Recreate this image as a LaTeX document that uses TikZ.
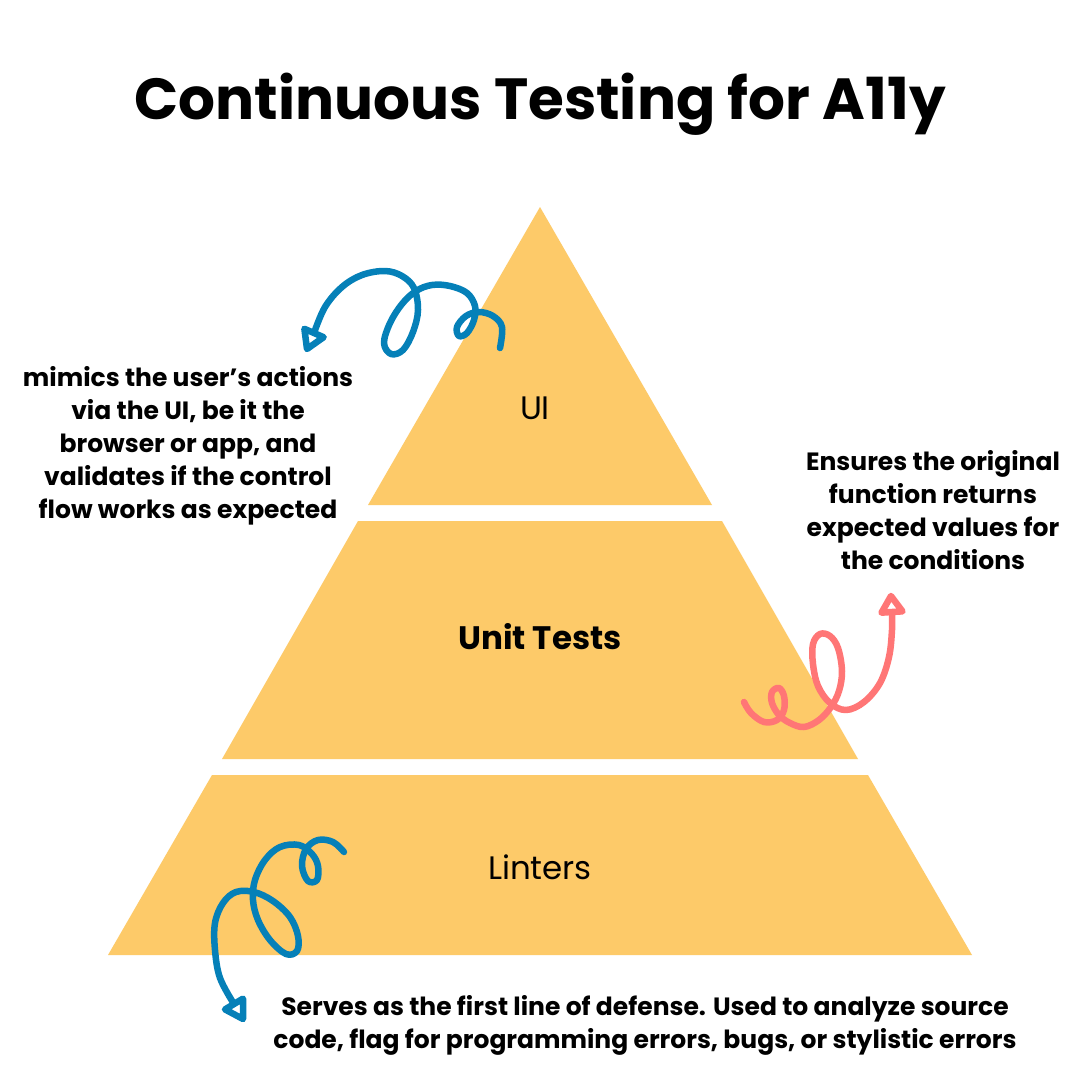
\documentclass[tikz,border=0pt]{standalone}
\usepackage{fontspec}
\setmainfont{Poppins}
\usepackage{tikz}
\usetikzlibrary{arrows.meta,positioning,calc}
\definecolor{pyr}{HTML}{FDCA69}
\definecolor{loopblue}{HTML}{0580B8}
\definecolor{looppink}{HTML}{FF7676}
\tikzset{
  layer/.style={fill=pyr,draw=none},
  tier/.style={font=\fontsize{32.5}{38}\selectfont,text=black,inner sep=0pt},
  note/.style={font=\fontsize{25}{33}\selectfont\bfseries,align=center,inner sep=0pt},
  squig/.style={line width=6.5pt,line cap=round,line join=round},
  headtri/.style={line width=6.5pt,line join=round,draw=#1,fill=white},
}
\begin{document}
\begin{tikzpicture}[x=1pt,y=-1pt]
  \fill[white] (0,0) rectangle (1080,1080);
  \useasboundingbox (0,0) rectangle (1080,1080);
  \node[font=\fontsize{58}{70}\selectfont\bfseries] (title) at (540,104) {Continuous Testing for A11y};
  \fill[layer] (540,207) -- (712,505) -- (368,505) -- cycle;
  \fill[layer] (358,521) -- (722,521) -- (858,759) -- (222,759) -- cycle;
  \fill[layer] (212,775) -- (868,775) -- (972,955) -- (108,955) -- cycle;
  \node[tier] (ui) at (535,408) {UI};
  \node[tier,font=\fontsize{32.5}{38}\selectfont\bfseries] (unit) at (540,637) {Unit Tests};
  \node[tier] (lint) at (540,867) {Linters};
  \node[note] (uinote) at (188,446) {mimics the user’s actions\\via the UI, be it the\\browser or app, and\\validates if the control\\flow works as expected};
  \node[note] (unitnote) at (933,510) {Ensures the original\\function returns\\expected values for\\the conditions};
  \node[note] (lintnote) at (645,1025) {Serves as the first line of defense. Used to analyze source\\code, flag for programming errors, bugs, or stylistic errors};
  \coordinate (uibase) at (314,333);
  \coordinate (uitip) at (307,349);
  \coordinate (unitbase) at (892,612);
  \coordinate (unittip) at (891,596);
  \coordinate (lintbase) at (234,1004);
  \coordinate (linttip) at (243,1019);
  \draw[squig,loopblue] plot[smooth,tension=0.6] coordinates {(500,348) (502,327) (493,316) (479,312) (466,316) (457,327) (459,336) (467,333) (474,320) (475,306) (467,293) (450,286) (432,285) (416,291) (402,304) (390,323) (384,343) (391,354) (403,350) (413,332) (418,310) (414,288) (402,276) (385,271) (362,275) (342,287) (325,307) (314,333)};
  \draw[headtri=loopblue] (uitip) -- ($(uibase)!10.5pt!90:(uitip)$) -- ($(uibase)!10.5pt!-90:(uitip)$) -- cycle;
  \draw[squig,looppink] plot[smooth,tension=0.6] coordinates {(744,702) (751,713) (764,722) (777,720) (784,710) (784,696) (779,688) (772,692) (772,703) (779,715) (790,723) (804,727) (819,720) (831,707) (839,691) (842,671) (838,648) (830,636) (820,634) (813,644) (813,664) (818,686) (830,703) (846,710) (864,702) (880,683) (889,657) (892,630) (892,612)};
  \draw[headtri=looppink] (unittip) -- ($(unitbase)!10.5pt!90:(unittip)$) -- ($(unitbase)!10.5pt!-90:(unittip)$) -- cycle;
  \draw[squig,loopblue] plot[smooth,tension=0.6] coordinates {(344,852) (333,842) (318,840) (306,849) (302,866) (308,881) (317,880) (318,866) (312,854) (299,845) (280,847) (265,860) (255,880) (253,900) (258,920) (270,940) (286,954) (297,951) (298,936) (290,917) (273,901) (254,892) (236,892) (223,903) (215,923) (215,950) (220,978) (234,1004)};
  \draw[headtri=loopblue] (linttip) -- ($(lintbase)!10.5pt!90:(linttip)$) -- ($(lintbase)!10.5pt!-90:(linttip)$) -- cycle;
\end{tikzpicture}
\end{document}
